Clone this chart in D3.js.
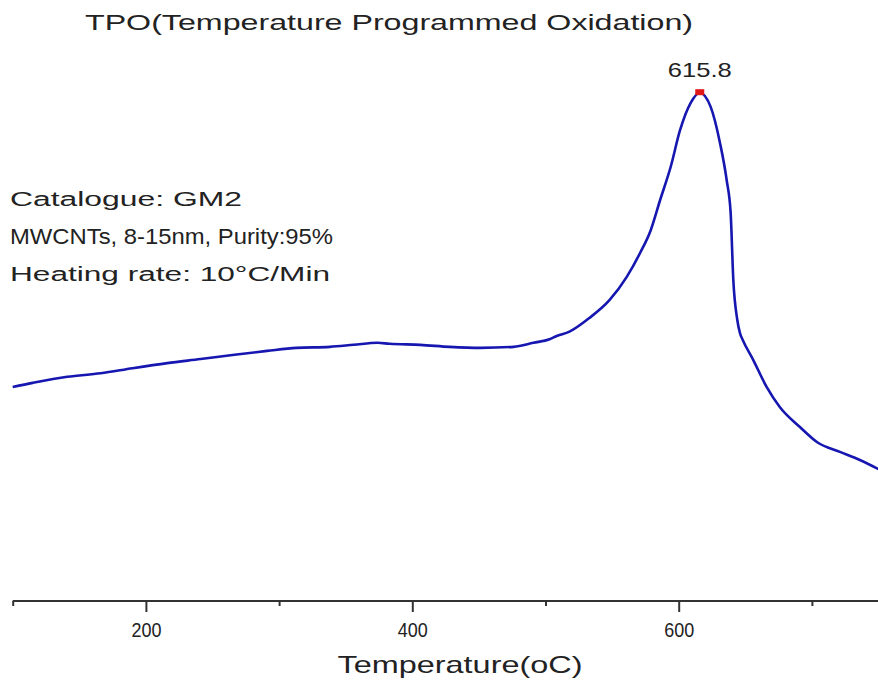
<!DOCTYPE html>
<html>
<head>
<meta charset="utf-8">
<script src="https://cdn.jsdelivr.net/npm/d3@7"></script>
<style>
  body { margin: 0; background: #fff; }
  text { font-family: "Liberation Sans", Arial, sans-serif; fill: #222; }
</style>
</head>
<body>
<div class="chart"></div>
<script>
// DATA ------------------------------
const temps  = [100,115,141,166,190,216,241,265,291,313,338,356,374,383,406,428,451,476,491,503,508,518,533,548,561,571,579,586,594,601,609,615.8,624,631,636,639,641,644,646,648,656,666,676,691,704,721,736,750];
const signal = [42.0,42.8,44.0,44.7,45.7,46.7,47.5,48.3,49.1,49.7,49.9,50.3,50.7,50.5,50.3,49.9,49.7,49.9,50.7,51.4,52.0,52.9,55.6,59.1,63.7,68.4,72.9,78.8,85.4,92.6,98.0,100,97.2,90.1,82.8,76.3,63.1,55.2,52.6,51.3,47.3,42.0,38.0,34.1,31.1,29.2,27.6,25.8];
const majorTicks = [200, 400, 600];
const minorTicks = [100, 300, 500, 700];
const peakT = 615.8, peakS = 100;
const notes = ["Catalogue: GM2", "MWCNTs, 8-15nm, Purity:95%", "Heating rate: 10\u00B0C/Min"];

// CHART INIT ------------------------------
const W = 878, H = 691;
const svg = d3.select(".chart").append("svg")
  .attr("width", W)
  .attr("height", H);

const xScale = d3.scaleLinear().domain([100, 750]).range([12.7, 878.5]);
const yScale = d3.scaleLinear().domain([0, 100]).range([600, 92.7]);

// title
svg.append("text")
  .attr("x", 85).attr("y", 30)
  .attr("font-size", 22)
  .attr("textLength", 608)
  .attr("lengthAdjust", "spacingAndGlyphs")
  .text("TPO(Temperature Programmed Oxidation)");

// annotation lines
const noteLen = [232, 323, 320];
svg.selectAll(".note")
  .data(notes)
  .enter().append("text")
  .attr("class", "note")
  .attr("x", 10)
  .attr("y", (d, i) => 206 + i * 37.5)
  .attr("font-size", (d, i) => i == 1 ? 22 : 20)
  .attr("textLength", (d, i) => noteLen[i])
  .attr("lengthAdjust", "spacingAndGlyphs")
  .text(d => d);

// x axis
const axis = svg.append("g")
  .attr("class", "x-axis")
  .attr("transform", "translate(0,601)");

axis.append("line")
  .attr("x1", xScale(100)).attr("x2", W)
  .attr("stroke", "#333").attr("stroke-width", 2);

axis.append("g")
  .call(d3.axisBottom(xScale).tickValues(minorTicks).tickSize(5).tickFormat(""))
  .call(g => g.select(".domain").remove())
  .selectAll("line").attr("stroke", "#333").attr("stroke-width", 2);

const major = axis.append("g")
  .call(d3.axisBottom(xScale).tickValues(majorTicks).tickSize(11).tickPadding(11))
  .call(g => g.select(".domain").remove());
major.selectAll("line").attr("stroke", "#333").attr("stroke-width", 2);
major.selectAll("text")
  .attr("font-size", 20)
  .attr("fill", "#222")
  .attr("textLength", 30)
  .attr("lengthAdjust", "spacingAndGlyphs");

svg.append("text")
  .attr("x", 460).attr("y", 673)
  .attr("text-anchor", "middle")
  .attr("font-size", 24)
  .attr("textLength", 245)
  .attr("lengthAdjust", "spacingAndGlyphs")
  .text("Temperature(oC)");

// curve
const line = d3.line()
  .x(d => xScale(d[0]))
  .y(d => yScale(d[1]))
  .curve(d3.curveMonotoneX);

svg.append("path")
  .datum(temps.map((t, i) => [t, signal[i]]))
  .attr("fill", "none")
  .attr("stroke", "#1616b0")
  .attr("stroke-width", 2.6)
  .attr("d", line);

// peak marker
svg.append("rect")
  .attr("x", xScale(peakT) - 4.5).attr("y", yScale(peakS) - 3.5)
  .attr("width", 9).attr("height", 6)
  .attr("fill", "#e01818");

svg.append("text")
  .attr("x", xScale(peakT)).attr("y", 77)
  .attr("text-anchor", "middle")
  .attr("font-size", 21)
  .attr("textLength", 64)
  .attr("lengthAdjust", "spacingAndGlyphs")
  .text(peakT.toFixed(1));
</script>
</body>
</html>
